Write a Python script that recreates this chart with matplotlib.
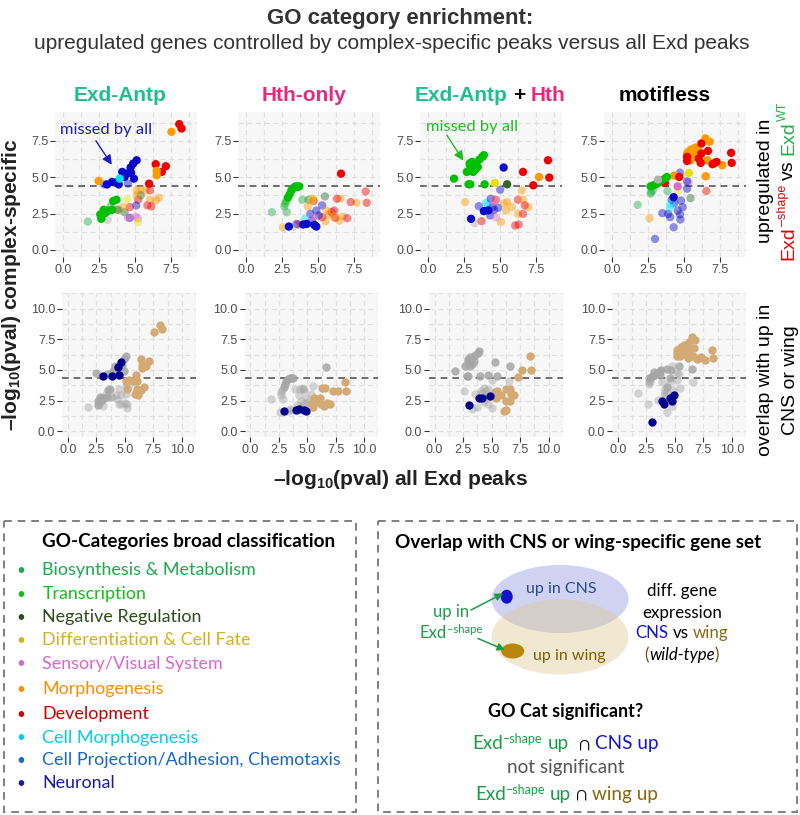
import matplotlib
matplotlib.use('Agg')
import matplotlib.pyplot as plt
from matplotlib.patches import Ellipse, Rectangle

W, H = 800, 815
plt.rcParams['font.family'] = ['Liberation Sans', 'DejaVu Sans']
plt.rcParams['mathtext.fontset'] = 'custom'
plt.rcParams['mathtext.rm'] = 'Liberation Sans'
plt.rcParams['mathtext.bf'] = 'Liberation Sans:bold'
plt.rcParams['mathtext.it'] = 'Liberation Sans:italic'

# ---------------- data ----------------
# (x = -log10 pval all Exd peaks, y = -log10 pval complex-specific, category, solid, overlap class)
exd_antp = [
    (8.07, 8.64, 'V', 1, 't'), (8.23, 8.34, 'V', 1, 't'), (7.53, 8.11, 'M', 1, 't'),
    (5.12, 6.16, 'U', 1, 'g'), (4.88, 5.93, 'U', 1, 'g'), (4.70, 5.66, 'U', 1, 'n'),
    (4.74, 5.29, 'U', 1, 'g'), (4.42, 5.24, 'U', 1, 'n'), (4.12, 5.36, 'U', 1, 'g'),
    (4.28, 5.01, 'U', 1, 'g'), (3.77, 4.67, 'U', 1, 'g'), (3.42, 4.67, 'U', 1, 'g'),
    (3.88, 4.50, 'U', 1, 'n'), (3.07, 4.50, 'U', 1, 'n'), (2.88, 4.50, 'U', 0, 'g'),
    (4.51, 4.55, 'U', 0, 'n'), (4.93, 4.90, 'U', 1, 'g'), (3.95, 4.90, 'C', 1, 'g'),
    (4.28, 5.13, 'U', 0, 'g'), (2.49, 4.74, 'M', 1, 'g'),
    (6.44, 5.89, 'V', 1, 't'), (7.14, 5.75, 'V', 1, 't'), (6.86, 5.36, 'V', 1, 't'),
    (6.51, 5.43, 'M', 1, 't'), (6.51, 5.13, 'M', 1, 't'), (5.98, 4.55, 'V', 1, 't'),
    (5.12, 4.09, 'M', 0, 't'), (5.40, 4.14, 'M', 0, 't'), (5.74, 4.09, 'M', 0, 't'),
    (6.05, 4.09, 'V', 0, 't'), (6.05, 3.45, 'M', 0, 't'), (6.44, 3.40, 'M', 0, 't'),
    (6.67, 3.59, 'M', 0, 't'), (5.86, 3.06, 'V', 0, 't'), (6.14, 2.99, 'V', 0, 't'),
    (5.23, 3.45, 'V', 0, 't'), (5.40, 3.75, 'N', 0, 'g'), (5.12, 3.75, 'M', 0, 'g'),
    (4.47, 3.45, 'D', 0, 'g'), (5.09, 3.06, 'U', 0, 'g'), (4.65, 2.94, 'V', 0, 'g'),
    (4.28, 2.60, 'N', 0, 'g'), (4.65, 2.21, 'U', 0, 'g'), (4.51, 2.21, 'S', 0, 'g'),
    (5.05, 2.30, 'S', 0, 'g'), (5.21, 2.18, 'S', 0, 'g'), (5.21, 1.91, 'D', 0, 'g'),
    (4.19, 2.94, 'M', 0, 'g'), (3.77, 2.76, 'V', 0, 'g'),
    (3.49, 3.36, 'T', 1, 'g'), (3.72, 3.45, 'T', 1, 'g'), (3.02, 2.71, 'T', 1, 'g'),
    (2.84, 2.76, 'T', 1, 'g'), (3.19, 2.71, 'T', 1, 'g'), (2.60, 2.44, 'T', 1, 'g'),
    (2.67, 2.14, 'T', 1, 'g'), (3.42, 2.76, 'T', 1, 'g'), (2.95, 2.55, 'T', 1, 'g'),
    (3.35, 3.06, 'B', 0, 'g'), (1.74, 1.95, 'B', 0, 'g'), (3.12, 2.07, 'O', 0, 'g'),
    (2.72, 2.25, 'B', 0, 'g'), (3.88, 2.76, 'B', 0, 'g'),
]

hth_only = [
    (6.60, 5.24, 'V', 1, 'g'),
    (3.47, 4.37, 'T', 1, 'g'), (3.71, 4.37, 'T', 1, 'g'), (3.60, 4.32, 'T', 1, 'g'),
    (3.33, 4.28, 'T', 1, 'g'), (3.16, 4.09, 'T', 1, 'g'), (3.04, 3.82, 'T', 1, 'g'),
    (2.92, 3.59, 'T', 1, 'g'), (2.80, 3.36, 'T', 0, 'g'), (2.73, 3.17, 'T', 0, 'g'),
    (2.68, 2.99, 'B', 0, 'g'), (1.81, 2.60, 'B', 0, 'g'), (2.85, 2.60, 'B', 0, 'g'),
    (3.92, 3.45, 'B', 0, 'g'), (4.35, 3.45, 'N', 0, 'g'), (5.49, 3.68, 'N', 0, 'g'),
    (4.66, 3.52, 'M', 0, 'g'), (4.30, 2.99, 'M', 0, 'g'), (5.77, 2.44, 'M', 0, 't'),
    (5.53, 1.98, 'M', 0, 't'), (6.72, 2.30, 'M', 0, 't'), (6.48, 2.02, 'M', 0, 't'),
    (7.67, 3.24, 'M', 0, 't'), (6.56, 3.52, 'M', 0, 't'), (2.57, 1.56, 'M', 0, 'g'),
    (6.32, 3.52, 'V', 0, 't'), (7.27, 3.29, 'V', 0, 't'), (8.38, 3.24, 'V', 0, 't'),
    (8.31, 4.02, 'V', 0, 't'), (6.13, 2.71, 'V', 0, 't'), (5.95, 2.60, 'V', 0, 't'),
    (6.20, 2.21, 'V', 0, 't'), (7.03, 2.18, 'V', 0, 't'), (5.30, 2.25, 'V', 0, 't'),
    (4.70, 3.36, 'V', 0, 'g'), (3.63, 1.75, 'V', 0, 'g'),
    (4.47, 2.48, 'U', 0, 'g'), (4.89, 2.71, 'U', 0, 'g'), (5.30, 3.06, 'U', 0, 'g'),
    (4.58, 2.02, 'U', 0, 'g'), (4.23, 1.79, 'U', 1, 'n'), (3.99, 1.75, 'U', 1, 'n'),
    (3.52, 1.79, 'U', 0, 'g'), (2.99, 1.61, 'U', 1, 'n'), (4.89, 1.61, 'U', 1, 'n'),
    (4.75, 1.72, 'U', 1, 'n'), (5.06, 2.37, 'U', 0, 'g'), (4.11, 2.14, 'C', 0, 'g'),
    (3.30, 1.61, 'O', 0, 'g'), (4.70, 2.25, 'S', 0, 'g'), (4.60, 3.45, 'D', 0, 'g'),
    (5.60, 2.70, 'M', 0, 't'), (6.10, 2.30, 'M', 0, 't'),
]

exd_antp_hth = [
    (3.07, 6.05, 'T', 1, 'g'), (3.23, 5.82, 'T', 1, 'g'), (2.95, 5.70, 'T', 1, 'g'),
    (2.71, 5.36, 'T', 1, 'g'), (3.30, 5.52, 'T', 1, 'g'), (3.47, 5.70, 'T', 1, 'g'),
    (3.77, 6.39, 'T', 1, 'g'), (3.89, 6.51, 'T', 1, 'g'), (3.58, 6.21, 'T', 1, 'g'),
    (3.14, 5.36, 'T', 1, 'g'), (2.90, 5.93, 'T', 1, 'g'), (3.00, 5.55, 'T', 1, 'g'),
    (1.82, 4.90, 'T', 1, 'g'), (2.83, 4.51, 'T', 1, 'g'), (2.95, 4.51, 'T', 1, 'g'),
    (3.94, 4.51, 'T', 1, 'g'), (4.65, 4.60, 'D', 1, 'g'), (5.50, 4.51, 'N', 1, 'g'),
    (5.26, 5.66, 'U', 1, 'g'), (6.60, 5.36, 'V', 1, 'g'), (8.33, 6.16, 'V', 1, 't'),
    (8.42, 4.97, 'V', 1, 't'), (7.31, 4.44, 'V', 1, 't'), (7.71, 5.01, 'M', 1, 't'),
    (5.02, 4.14, 'U', 0, 'g'), (6.53, 4.09, 'M', 0, 'g'), (2.59, 3.29, 'M', 0, 'g'),
    (3.54, 3.01, 'U', 0, 'g'), (4.06, 3.24, 'C', 0, 'g'), (4.15, 3.10, 'C', 0, 'g'),
    (4.36, 3.52, 'U', 0, 'g'), (4.72, 3.45, 'V', 0, 'g'), (4.48, 2.94, 'U', 0, 'g'),
    (4.88, 2.90, 'U', 0, 'n'), (5.50, 3.29, 'M', 0, 't'), (5.83, 2.94, 'M', 0, 't'),
    (6.25, 3.45, 'V', 0, 't'), (6.60, 3.45, 'M', 0, 't'), (6.96, 2.94, 'M', 0, 't'),
    (6.72, 3.06, 'V', 0, 't'), (5.42, 2.71, 'M', 0, 't'), (6.25, 2.48, 'M', 0, 't'),
    (6.60, 2.48, 'V', 0, 't'), (3.00, 2.14, 'U', 1, 'n'), (3.25, 1.84, 'O', 0, 'g'),
    (3.73, 1.98, 'V', 0, 'g'), (4.32, 2.37, 'U', 0, 'g'), (4.72, 2.25, 'S', 0, 'g'),
    (5.07, 1.91, 'M', 0, 'g'), (6.06, 1.68, 'V', 0, 't'), (6.30, 1.75, 'V', 0, 't'),
    (3.89, 2.67, 'U', 1, 'n'), (4.20, 2.72, 'U', 1, 'n'), (4.60, 2.76, 'U', 0, 'g'),
    (5.30, 3.20, 'M', 0, 't'), (4.55, 3.30, 'S', 0, 'g'),
]

motifless = [
    (6.49, 7.66, 'M', 1, 't'), (6.79, 7.43, 'M', 1, 't'), (5.78, 7.03, 'M', 1, 't'),
    (5.50, 6.90, 'M', 1, 't'), (5.32, 6.74, 'M', 1, 't'), (5.22, 6.62, 'M', 1, 't'),
    (5.62, 6.62, 'M', 1, 't'), (5.46, 6.16, 'M', 1, 't'), (6.63, 6.16, 'M', 1, 't'),
    (7.66, 5.82, 'M', 1, 't'), (6.51, 5.06, 'M', 1, 'g'), (4.33, 5.10, 'M', 1, 'g'),
    (5.95, 6.90, 'M', 1, 't'),
    (6.21, 7.31, 'V', 1, 't'), (6.67, 6.80, 'V', 1, 't'), (6.21, 6.62, 'V', 1, 't'),
    (6.02, 6.28, 'V', 1, 't'), (6.16, 5.98, 'V', 1, 't'), (5.22, 6.11, 'V', 1, 't'),
    (5.22, 6.39, 'V', 1, 't'), (6.98, 5.89, 'V', 1, 't'), (7.26, 6.05, 'V', 1, 't'),
    (7.10, 5.95, 'V', 1, 't'), (8.27, 6.67, 'V', 1, 't'), (8.31, 5.98, 'V', 1, 't'),
    (4.68, 5.01, 'V', 1, 'g'), (3.68, 4.60, 'V', 1, 'g'),
    (2.69, 4.37, 'T', 1, 'g'), (2.88, 4.44, 'T', 1, 'g'), (3.21, 4.60, 'T', 1, 'g'),
    (3.44, 4.78, 'T', 1, 'g'), (3.68, 4.90, 'T', 1, 'g'), (3.82, 5.01, 'T', 1, 'g'),
    (3.05, 4.50, 'T', 1, 'g'), (2.74, 3.98, 'B', 0, 'g'), (2.69, 3.86, 'B', 0, 'g'),
    (2.85, 4.10, 'B', 0, 'g'), (1.80, 3.10, 'B', 0, 'g'), (3.86, 4.05, 'B', 0, 'g'),
    (3.21, 4.83, 'O', 1, 'g'), (5.34, 5.29, 'D', 1, 'g'), (4.57, 4.02, 'D', 0, 'g'),
    (4.57, 4.37, 'S', 1, 'g'), (5.32, 4.67, 'S', 0, 'g'),
    (4.73, 5.31, 'U', 0, 'g'), (5.22, 4.71, 'U', 0, 'g'), (5.22, 4.21, 'U', 0, 'g'),
    (4.29, 3.63, 'U', 1, 'g'), (4.15, 3.45, 'U', 0, 'g'), (4.80, 3.40, 'U', 0, 'g'),
    (4.33, 3.22, 'U', 0, 'g'), (4.92, 2.94, 'U', 0, 'n'), (4.57, 2.71, 'U', 0, 'n'),
    (4.73, 2.44, 'U', 0, 'n'), (4.75, 2.09, 'U', 0, 'g'), (4.05, 2.25, 'U', 0, 'n'),
    (3.91, 2.48, 'U', 0, 'n'), (3.51, 2.53, 'U', 0, 'g'), (4.29, 1.56, 'U', 0, 'g'),
    (3.00, 0.76, 'U', 0, 'n'), (4.10, 3.13, 'C', 0, 'g'), (4.03, 2.90, 'C', 0, 'g'),
    (5.46, 3.56, 'N', 0, 'g'), (2.62, 2.18, 'M', 0, 'g'), (6.56, 4.05, 'V', 0, 'g'),
]

panels = [exd_antp, hth_only, exd_antp_hth, motifless]
threshold = 4.38
top_ticks = [0, 2.5, 5, 7.5]
bottom_ticks = [0, 2.5, 5, 7.5, 10]

legend_categories = ['Biosynthesis & Metabolism', 'Transcription', 'Negative Regulation',
                     'Differentiation & Cell Fate', 'Sensory/Visual System', 'Morphogenesis',
                     'Development', 'Cell Morphogenesis', 'Cell Projection/Adhesion, Chemotaxis',
                     'Neuronal']

# ---------------- styles ----------------
point_colors = {'B': '#22b04a', 'T': '#00c000', 'N': '#2f6a2a', 'D': '#e8e000', 'S': '#e06ac4',
                'M': '#ff9900', 'V': '#ee0000', 'C': '#00e5ff', 'P': '#1f6fdf', 'U': '#0a0acc',
                'O': '#b0b0b0'}
legend_colors = ['#1aab4a', '#11c011', '#2d4d1d', '#d4b020', '#dd66cc', '#ff8c00',
                 '#cc0000', '#00ccf5', '#1668c8', '#1a1aa8']
ovl_colors = {'g': '#a6a6a6', 't': '#d4aa74', 'n': '#00008b'}

fig = plt.figure(figsize=(8, 8.15), dpi=100)


def ax_px(l, t, w, h):
    return fig.add_axes([l / W, 1 - (t + h) / H, w / W, h / H])


def style_axes(ax, ticks, xlim, ylim):
    ax.set_facecolor('#f7f7f7')
    for s in ax.spines.values():
        s.set_visible(False)
    ax.set_xlim(*xlim)
    ax.set_ylim(*ylim)
    ax.set_xticks(ticks)
    ax.set_yticks(ticks)
    ax.set_xticklabels([f'{t:.1f}' for t in ticks])
    ax.set_yticklabels([f'{t:.1f}' for t in ticks])
    minor = [t + 1.25 for t in ticks]
    ax.set_xticks(minor, minor=True)
    ax.set_yticks(minor, minor=True)
    ax.grid(which='both', ls=(0, (4, 3)), color='#e0e0e0', lw=0.9)
    ax.set_axisbelow(True)
    ax.tick_params(which='major', length=3.5, width=0.8, color='#333333', pad=1.5,
                   labelsize=9, labelcolor='#4d4d4d')
    ax.tick_params(which='minor', length=0)
    ax.axhline(threshold, color='#555555', ls=(0, (4, 3)), lw=1.2, zorder=1)


top_x0 = [62.7, 245.7, 427.7, 611.7]
bot_x0 = [68.3, 250.7, 435.0, 618.3]
top_axes = []
bot_axes = []
for i, data in enumerate(panels):
    # top row
    ax = ax_px(top_x0[i] - 0.5 * 14.44, 250 - 9.5 * 14.57, 9.8 * 14.44, 9.97 * 14.57)
    style_axes(ax, top_ticks, (-0.5, 9.3), (-0.47, 9.5))
    for solid in (0, 1):
        pts = [p for p in data if p[3] == solid]
        ax.scatter([p[0] for p in pts], [p[1] for p in pts],
                   c=[point_colors[p[2]] for p in pts], s=36, linewidths=0,
                   alpha=1.0 if solid else 0.45, zorder=3)
    top_axes.append(ax)
    # bottom row
    ax2 = ax_px(bot_x0[i] - 0.5 * 12.17, 430.7 - 10.5 * 13.07, 11 * 12.17, 11 * 13.07)
    style_axes(ax2, bottom_ticks, (-0.5, 10.5), (-0.5, 10.5))
    for cls in ('g', 't', 'n'):
        for solid in (0, 1):
            pts = [p for p in data if p[4] == cls and p[3] == solid]
            if not pts:
                continue
            a = 1.0 if cls != 'g' else (0.85 if solid else 0.45)
            ax2.scatter([p[0] for p in pts], [p[1] for p in pts], c=ovl_colors[cls],
                        s=36, linewidths=0, alpha=a, zorder=3)
    bot_axes.append(ax2)

# annotations "missed by all"
LF = ['Lato', 'DejaVu Sans']
top_axes[0].text(3.0, 8.24, 'missed by all', color='#1a1acc', ha='center', va='center',
                 fontsize=11.8, family=LF, zorder=5)
top_axes[0].annotate('', xy=(3.4, 5.85), xytext=(2.3, 7.5),
                     arrowprops=dict(arrowstyle='-|>', color='#1a1acc', lw=1.0,
                                     mutation_scale=14, shrinkA=0, shrinkB=0), zorder=5)
top_axes[2].text(3.07, 8.42, 'missed by all', color='#22bb22', ha='center', va='center',
                 fontsize=11.8, family=LF, zorder=5)
top_axes[2].annotate('', xy=(2.47, 6.13), xytext=(1.32, 7.89),
                     arrowprops=dict(arrowstyle='-|>', color='#22bb22', lw=1.0,
                                     mutation_scale=14, shrinkA=0, shrinkB=0), zorder=5)

# ---------------- overlay in pixel coordinates ----------------
ov = fig.add_axes([0, 0, 1, 1], zorder=10)
ov.set_xlim(0, W)
ov.set_ylim(H, 0)
ov.axis('off')
ov.patch.set_alpha(0)

renderer = fig.canvas.get_renderer()


def measure(s, kw):
    if s == '':
        return 0.0
    t = ov.text(0, 0, '|' + s + '|', **kw)
    w = t.get_window_extent(renderer).width
    t.remove()
    t2 = ov.text(0, 0, '||', **kw)
    w2 = t2.get_window_extent(renderer).width
    t2.remove()
    return w - w2


def rich(x, y, pieces, ha='center', rotation=0):
    widths = [measure(s, kw) for s, kw, dy in pieces]
    total = sum(widths)
    off = {'center': -total / 2, 'left': 0, 'right': -total}[ha]
    for (s, kw, dy), w in zip(pieces, widths):
        lead = s[:len(s) - len(s.lstrip())]
        lo = measure(lead, kw) if lead else 0
        body = s.strip()
        if body:
            if rotation == 0:
                px, py = x + off + lo, y - dy
            else:
                px, py = x - dy, y - off - lo
            ov.text(px, py, body, ha='left', va='baseline', rotation=rotation,
                    rotation_mode='anchor', **kw)
        off += w


# titles
ov.text(400, 24, 'GO category enrichment:', ha='center', va='baseline', fontsize=16,
        fontweight='bold', color='#333333')
ov.text(392, 49, 'upregulated genes controlled by complex-specific peaks versus all Exd peaks',
        ha='center', va='baseline', fontsize=15, color='#333333')

teal = '#1dbf8c'
pink = '#e8287c'
tkw = dict(fontsize=15, fontweight='bold')
rich(120, 101, [('Exd-Antp', dict(tkw, color=teal), 0)])
rich(304, 101, [('Hth-only', dict(tkw, color=pink), 0)])
rich(490, 101, [('Exd-Antp', dict(tkw, color=teal), 0), (' + ', dict(tkw, color='black'), 0),
                ('Hth', dict(tkw, color=pink), 0)])
rich(665, 101, [('motifless', dict(tkw, color='black'), 0)])

# axis labels
ov.text(17, 285, r'–log$_{\mathbf{10}}$(pval) complex-specific', rotation=90, ha='center',
        va='baseline', rotation_mode='anchor', fontsize=15, fontweight='bold', color='#222222')
ov.text(400, 485, r'–log$_{\mathbf{10}}$(pval) all Exd peaks', ha='center', va='baseline',
        fontsize=15, fontweight='bold', color='#222222')

# right side strip labels
rkw = dict(fontsize=14, color='black')
rich(770, 181, [('upregulated in', rkw, 0)], rotation=90)
rich(793, 181, [('Exd', dict(fontsize=14, color='#ee0000'), 0),
                ('–shape', dict(fontsize=9, color='#ee0000'), 7),
                (' vs ', dict(fontsize=14, color='black'), 0),
                ('Exd', dict(fontsize=14, color='#22b04a'), 0),
                ('WT', dict(fontsize=9, color='#22b04a'), 7)], rotation=90)
rich(770, 380, [('overlap with up in', rkw, 0)], rotation=90)
rich(795, 380, [('CNS or wing', rkw, 0)], rotation=90)

# ---------------- bottom boxes ----------------
for (l, t, r, b) in [(4, 521, 356, 812), (378, 521, 797, 812)]:
    ov.add_patch(Rectangle((l, t), r - l, b - t, fill=False, edgecolor='#808080', lw=1.4,
                           ls=(0, (4, 3))))

ov.text(42, 546.7, 'GO-Categories broad classification', fontsize=13.6, fontweight='bold',
        family=LF, color='black', va='baseline', ha='left')
leg_baselines = [575, 599, 622, 645, 668.5, 694, 719, 742.5, 765, 788.5]
for name, col, yb in zip(legend_categories, legend_colors, leg_baselines):
    ov.text(21, yb, '•', fontsize=11, family=LF, color=col, va='baseline', ha='center')
    ov.text(42.5, yb, name, fontsize=12.9, family=LF, color=col, va='baseline', ha='left')

ov.text(578.5, 548.3, 'Overlap with CNS or wing-specific gene set', fontsize=13.6,
        fontweight='bold', family=LF, color='black', va='baseline', ha='center')

# venn
ov.add_patch(Ellipse((560, 599), 137, 68, facecolor='#cfd2f1', edgecolor='none'))
ov.add_patch(Ellipse((560, 637), 137, 75, facecolor='#dcc68f', alpha=0.4, edgecolor='none'))
ov.add_patch(Ellipse((506.7, 596.7), 12, 14, facecolor='#1212c8', edgecolor='none'))
ov.add_patch(Ellipse((512.7, 651), 23, 15, facecolor='#b8860b', edgecolor='none'))
ov.text(561, 593.3, 'up in CNS', fontsize=11.5, family=LF, color='#2a4b8d', ha='center',
        va='baseline')
ov.text(569, 660, 'up in wing', fontsize=11.5, family=LF, color='#7f5f00', ha='center',
        va='baseline')
green = '#1a9e45'
ov.text(451, 616.7, 'up in', fontsize=12, family=LF, color=green, ha='center', va='baseline')
rich(450.7, 638.3, [('Exd', dict(fontsize=12, family=LF, color=green), 0),
                    ('–shape', dict(fontsize=8, family=LF, color=green), 5.5)])
ov.annotate('', xy=(503, 593.5), xytext=(471, 610),
            arrowprops=dict(arrowstyle='-|>', color=green, lw=1.1, mutation_scale=11,
                            shrinkA=0, shrinkB=0))
ov.annotate('', xy=(505, 650), xytext=(478, 638.5),
            arrowprops=dict(arrowstyle='-|>', color=green, lw=1.1, mutation_scale=11,
                            shrinkA=0, shrinkB=0))

bk = dict(fontsize=12.2, family=LF)
ov.text(682, 596, 'diff. gene', color='black', ha='center', va='baseline', **bk)
ov.text(682, 617.7, 'expression', color='black', ha='center', va='baseline', **bk)
rich(682, 638.3, [('CNS', dict(bk, color='#1515d0'), 0), (' vs ', dict(bk, color='black'), 0),
                  ('wing', dict(bk, color='#8b6914'), 0)])
rich(682, 660, [('(', dict(bk, color='#6b5010'), 0),
                ('wild-type', dict(bk, color='black', style='italic'), 0),
                (')', dict(bk, color='#6b5010'), 0)])

ov.text(566, 717.3, 'GO Cat significant?', fontsize=13, fontweight='bold', family=LF,
        color='black', ha='center', va='baseline')
ek = dict(fontsize=13.6, family=LF)
sk = dict(fontsize=9, family=LF)
rich(565.5, 749.3, [('Exd', dict(ek, color=green), 0), ('–shape', dict(sk, color=green), 6.5),
                    (' up  ', dict(ek, color=green), 0), ('∩', dict(ek, color='black'), 0),
                    (' CNS up', dict(ek, color='#1515d0'), 0)])
ov.text(566, 773.3, 'not significant', color='#555555', ha='center', va='baseline', **ek)
rich(566.7, 800, [('Exd', dict(ek, color=green), 0), ('–shape', dict(sk, color=green), 6.5),
                  (' up ', dict(ek, color=green), 0), ('∩', dict(ek, color='black'), 0),
                  (' wing up', dict(ek, color='#8b6508'), 0)])

fig.savefig('out.png', dpi=100)
